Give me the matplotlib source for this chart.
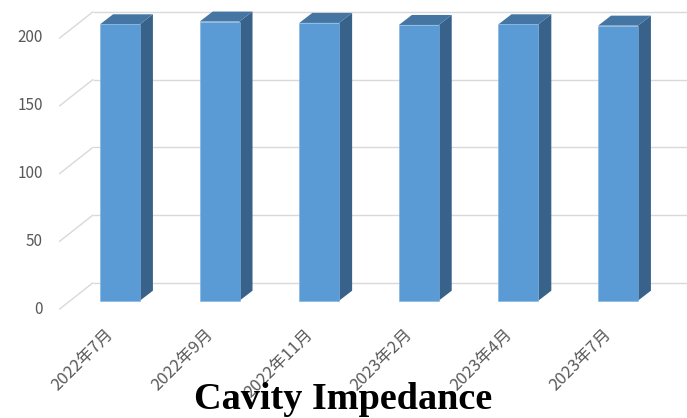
import matplotlib
matplotlib.use("Agg")
import matplotlib.pyplot as plt
from matplotlib.patches import Polygon
import matplotlib.transforms as mtransforms

# Data
categories = ["2022年7月", "2022年9月", "2022年11月", "2023年2月", "2023年4月", "2023年7月"]
values = [204, 206, 205, 203.5, 204, 203]
y_ticks = [0, 50, 100, 150, 200]
title = "Cavity Impedance"

# Colours
FRONT = "#5B9BD5"
TOP = "#4575A3"
SIDE = "#38628A"
GRID = "#D9D9D9"
TEXT = "#595959"

W, H, DPI = 687, 418, 100
fig = plt.figure(figsize=(W / DPI, H / DPI), dpi=DPI)
ax = fig.add_axes([0, 0, 1, 1])
ax.set_axis_off()

# Axes in the plane of the bars' front faces
px_per_cat = 99.6
px_per_val = 1.355
x0_px, y0_px = 120.0, 300.7
ax.set_xlim(-x0_px / px_per_cat, (W - x0_px) / px_per_cat)
ax.set_ylim(-(H - y0_px) / px_per_val, y0_px / px_per_val)

# Depth offsets (oblique projection), in data units
bar_dx, bar_dv = 13 / px_per_cat, 10 / px_per_val
front_dx, front_dv = -10.5 / px_per_cat, -8.3 / px_per_val
back_dx, back_dv = 22.5 / px_per_cat, 17.7 / px_per_val

n = len(categories)
xs = list(range(n))
x_left, x_right = -0.5, n - 0.5

# Walls: back gridlines and the slanted lines on the side wall
for t in y_ticks:
    ax.plot([x_left + back_dx, x_right + back_dx + 1], [t + back_dv, t + back_dv],
            color=GRID, lw=1.0, zorder=1, solid_capstyle="butt")
    ax.plot([x_left + front_dx, x_left + back_dx], [t + front_dv, t + back_dv],
            color=GRID, lw=1.0, zorder=1)

# Bars: front face, side face, top face
bw = 0.4
ax.bar(xs, values, width=bw, color=FRONT, edgecolor="#7FB2E0", linewidth=0.4, zorder=3)
for x, v in zip(xs, values):
    r, l = x + bw / 2, x - bw / 2
    side = Polygon([(r, 0), (r + bar_dx, bar_dv), (r + bar_dx, v + bar_dv), (r, v)],
                   closed=True, facecolor=SIDE, edgecolor="none", zorder=2.9)
    top = Polygon([(l, v), (r, v), (r + bar_dx, v + bar_dv), (l + bar_dx, v + bar_dv)],
                  closed=True, facecolor=TOP, edgecolor="none", zorder=2.9)
    ax.add_patch(side)
    ax.add_patch(top)

# Value-axis labels on the front plane
lbl_tr = mtransforms.blended_transform_factory(fig.transFigure, ax.transData)
for t in y_ticks:
    ax.text(43 / W, t + front_dv, f"{t}", transform=lbl_tr, ha="right", va="center",
            fontsize=11, color=TEXT, family=["Noto Sans CJK SC", "DejaVu Sans"])

# Category labels, rotated
for x, c in zip(xs, categories):
    ax.text(x - 0.15, -18.5, c, rotation=45, rotation_mode="anchor", ha="right", va="top",
            fontsize=12, color=TEXT, family=["Noto Sans CJK SC", "DejaVu Sans"])

fig.text(343 / W, 1 - 409 / H, title, ha="center", va="baseline", fontsize=27.5,
         fontweight="bold", family="Liberation Serif", color="black")

fig.savefig("out.png", dpi=DPI)
